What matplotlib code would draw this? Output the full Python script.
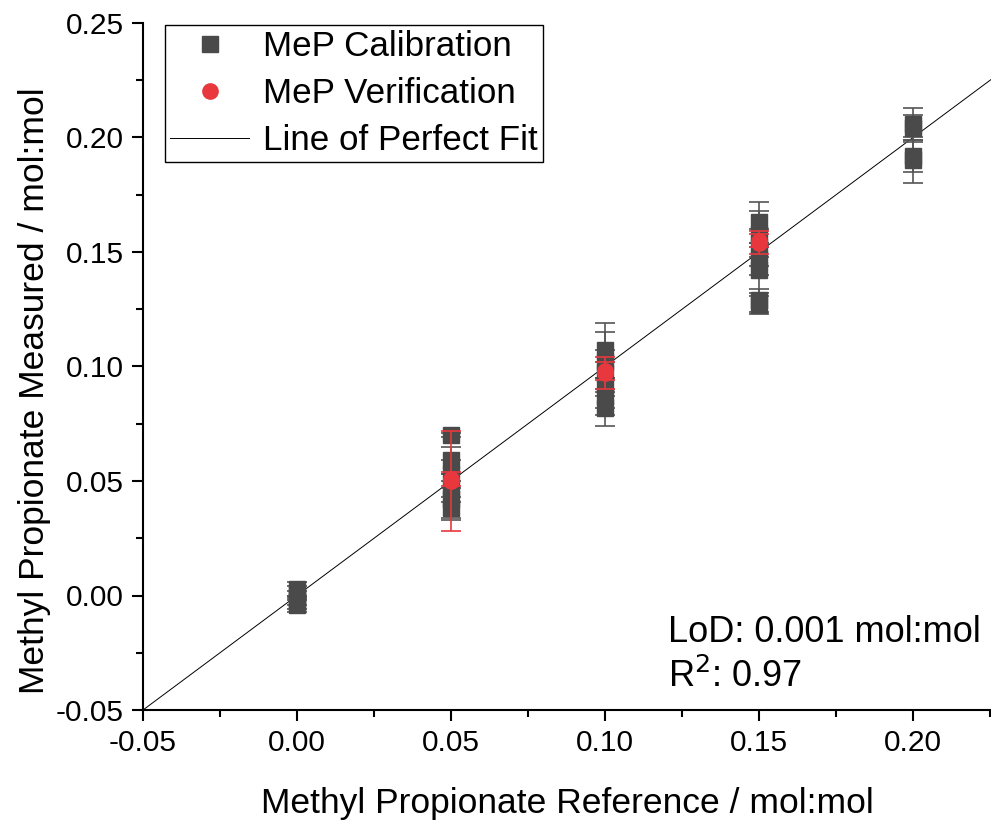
import matplotlib
matplotlib.use("Agg")
import matplotlib.pyplot as plt
from matplotlib.ticker import MultipleLocator, FormatStrFormatter
from matplotlib.lines import Line2D

plt.rcParams['font.family'] = ['Liberation Sans', 'DejaVu Sans']

# Calibration data
cal_x = [0.0, 0.0, 0.0, 0.0, 0.0,
         0.05, 0.05, 0.05, 0.05, 0.05, 0.05,
         0.10, 0.10, 0.10, 0.10, 0.10, 0.10,
         0.15, 0.15, 0.15, 0.15, 0.15, 0.15, 0.15,
         0.20, 0.20, 0.20, 0.20]
cal_y = [0.003, 0.001, -0.001, -0.003, -0.004,
         0.070, 0.059, 0.053, 0.047, 0.042, 0.038,
         0.107, 0.102, 0.097, 0.092, 0.087, 0.082,
         0.163, 0.158, 0.152, 0.147, 0.142, 0.129, 0.127,
         0.206, 0.204, 0.192, 0.190]
cal_err = [0.003, 0.003, 0.003, 0.003, 0.003,
           0.001, 0.006, 0.006, 0.006, 0.008, 0.005,
           0.012, 0.013, 0.010, 0.010, 0.008, 0.008,
           0.009, 0.010, 0.008, 0.007, 0.010, 0.005, 0.004,
           0.007, 0.006, 0.007, 0.010]

# Verification data
ver_x = [0.05, 0.05, 0.10, 0.10, 0.15, 0.15]
ver_y = [0.050, 0.051, 0.097, 0.098, 0.154, 0.155]
ver_err = [0.022, 0.003, 0.007, 0.004, 0.005, 0.003]

line_x = [-0.05, 0.23]

fig = plt.figure(figsize=(9.91, 8.21), dpi=100)
ax = fig.add_axes([143/991, 111/821, 1 - 143/991, (710-23)/821])

gray = '#4a4a4a'
red = '#e8383d'

ax.plot(line_x, line_x, color='black', lw=0.7, zorder=1)
ax.errorbar(cal_x, cal_y, yerr=cal_err, fmt='s', color=gray, ms=11,
            ecolor='#555555', elinewidth=1.2, capsize=7, capthick=1.2, zorder=2)
ax.errorbar(ver_x, ver_y, yerr=ver_err, fmt='o', color=red, ms=11,
            ecolor=red, elinewidth=1.2, capsize=7, capthick=1.2, zorder=3)

ax.set_xlim(-0.05, 0.2253)
ax.set_ylim(-0.05, 0.25)
ax.xaxis.set_major_locator(MultipleLocator(0.05))
ax.xaxis.set_minor_locator(MultipleLocator(0.025))
ax.yaxis.set_major_locator(MultipleLocator(0.05))
ax.yaxis.set_minor_locator(MultipleLocator(0.025))
ax.xaxis.set_major_formatter(FormatStrFormatter('%.2f'))
ax.yaxis.set_major_formatter(FormatStrFormatter('%.2f'))
ax.tick_params(which='major', direction='out', length=8, width=1.5, labelsize=21.5, pad=6)
ax.tick_params(which='minor', direction='out', length=5, width=1.5)
for s in ['top', 'right']:
    ax.spines[s].set_visible(False)
for s in ['left', 'bottom']:
    ax.spines[s].set_linewidth(1.5)

ax.set_xlabel('Methyl Propionate Reference / mol:mol', fontsize=25.5, labelpad=21)
ax.set_ylabel('Methyl Propionate Measured / mol:mol', fontsize=25.5)
ax.yaxis.set_label_coords(-0.108, 0.465)

h = [Line2D([], [], marker='s', color=gray, ls='none', ms=11),
     Line2D([], [], marker='o', color=red, ls='none', ms=11),
     Line2D([], [], color='black', lw=0.7)]
leg = ax.legend(h, ['MeP Calibration', 'MeP Verification', 'Line of Perfect Fit'],
                loc='upper left', bbox_to_anchor=(22/848, 685/687), fontsize=25.2,
                frameon=True, fancybox=False, edgecolor='black', framealpha=1,
                handlelength=2.25, handletextpad=0.4, labelspacing=0.4,
                borderpad=0.15, borderaxespad=0)
leg.get_frame().set_linewidth(1.0)

ax.text(0.1205, -0.016, 'LoD: 0.001 mol:mol', fontsize=26, va='center')
ax.text(0.1205, -0.0356, 'R$^2$: 0.97', fontsize=26, va='center')

fig.savefig('out.png', dpi=100)
